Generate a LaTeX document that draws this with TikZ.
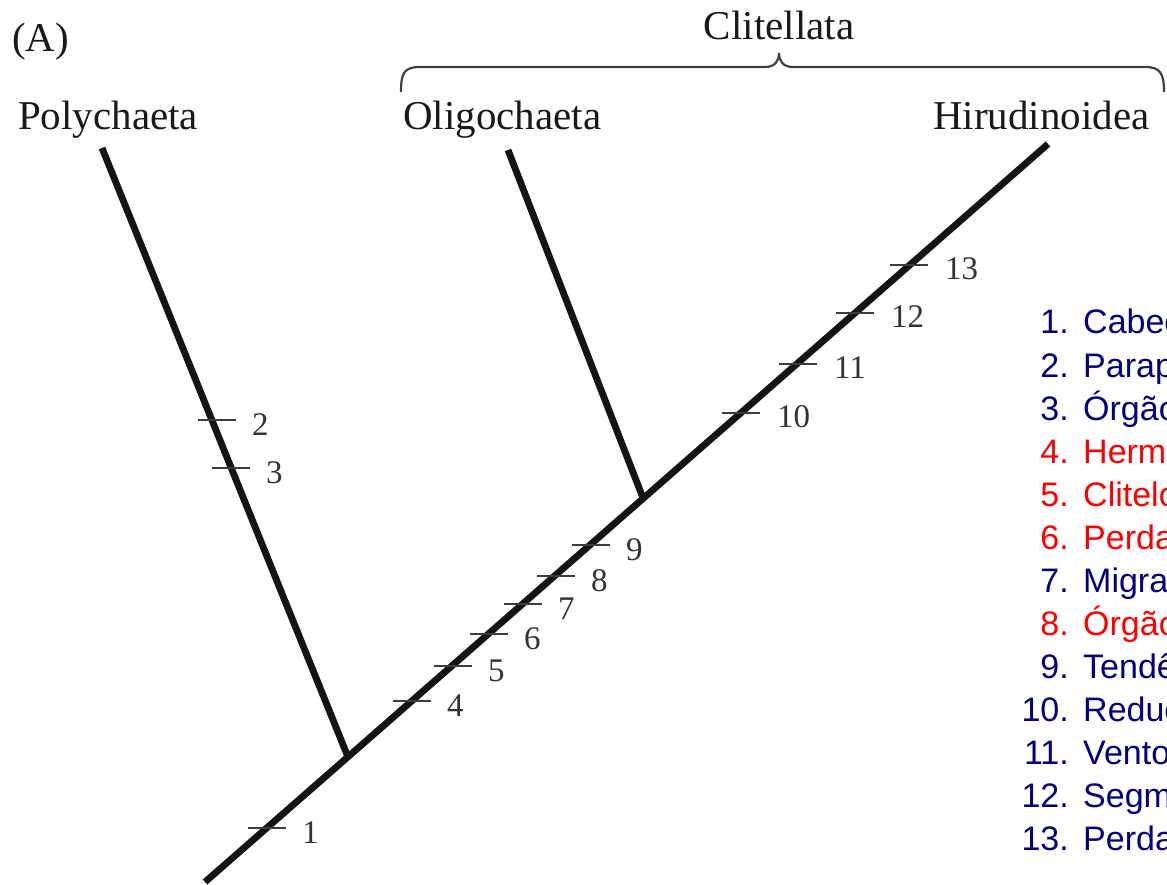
\documentclass[tikz,border=0pt]{standalone}
\usepackage{fontspec}
\setmainfont{Liberation Serif}
\newfontfamily\legendfont{Liberation Sans}
\usetikzlibrary{calc}
\definecolor{navy}{RGB}{0,0,128}
\definecolor{lred}{RGB}{255,0,0}
\definecolor{tickgray}{RGB}{60,60,60}
\begin{document}
\begin{tikzpicture}[x=1pt,y=-1pt,
  branchline/.style={line width=6.8pt, draw=black!92},
  tickline/.style={line width=2.4pt, draw=tickgray},
  ticklabel/.style={anchor=west, inner sep=0pt, text=black!80, font=\fontsize{33}{36}\selectfont},
  taxon/.style={anchor=base west, inner sep=0pt, font=\fontsize{41}{48}\selectfont, text=black!90},
  bracepath/.style={line width=2.2pt, draw=black!75},
  legnum/.style={anchor=base east, inner sep=0pt, font=\legendfont\fontsize{34}{38}\selectfont},
  legtext/.style={anchor=base west, inner sep=0pt, font=\legendfont\fontsize{34}{38}\selectfont}
]
\useasboundingbox (0,0) rectangle (1167,885);
\clip (0,0) rectangle (1167,885);

% taxa labels
\node[taxon] (A) at (12,52) {(A)};
\node[taxon, anchor=base] (clit) at (779,40) {Clitellata};
\node[taxon] (polyl) at (18,130) {Polychaeta};
\node[taxon] (oligol) at (403,130) {Oligochaeta};
\node[taxon] (hirul) at (933,130) {Hirudinoidea};

% brace
\draw[bracepath] (401,92) .. controls (401,73) and (404,67) .. (420,67) -- (765,67)
  .. controls (775,67) and (779,61) .. (779,53)
  .. controls (779,61) and (783,67) .. (793,67) -- (1145,67)
  .. controls (1160,67) and (1164,73) .. (1164,92);

% tree
\coordinate (root) at (205,882);
\coordinate (hiru) at (1048,144);
\coordinate (poly) at (102,148);
\coordinate (oligo) at (508,150);
\coordinate (jp) at (348,757);
\coordinate (jo) at (643,498);
\draw[branchline] (root) -- (hiru);
\draw[branchline] (poly) -- (jp);
\draw[branchline] (oligo) -- (jo);

% tick coordinates
\coordinate (t1) at (267,828);
\coordinate (t2) at (217,420);
\coordinate (t3) at (231,468);
\coordinate (t4) at (412,701);
\coordinate (t5) at (453,666);
\coordinate (t6) at (489,634);
\coordinate (t7) at (523,604);
\coordinate (t8) at (556,576);
\coordinate (t9) at (591,545);
\coordinate (t10) at (741,413);
\coordinate (t11) at (798,364);
\coordinate (t12) at (855,313);
\coordinate (t13) at (909,265);

\foreach \i in {1,...,13}{
  \draw[tickline] ($(t\i)+(-19,0)$) -- ($(t\i)+(19,0)$);
}
\foreach \i in {1,...,9}{
  \node[ticklabel] (l\i) at ($(t\i)+(35,5)$) {\i};
}
\foreach \i in {10,...,13}{
  \node[ticklabel] (l\i) at ($(t\i)+(36,4)$) {\i};
}

% legend
\foreach \n/\t/\c [count=\k from 0] in {
  1/Cabeça/navy, 2/Parapódios/navy, 3/Órgãos/navy, 4/Hermafroditas/lred,
  5/Clitelo/lred, 6/Perda/lred, 7/Migração/navy, 8/Órgãos/lred,
  9/Tendência/navy, 10/Redução/navy, 11/Ventosas/navy, 12/Segmentos/navy,
  13/Perda/navy}{
  \node[legnum, text=\c] (n\n) at (1069,334+43*\k) {\n.};
  \node[legtext, text=\c] (d\n) at (1083,334+43*\k) {\t};
}
\end{tikzpicture}
\end{document}
